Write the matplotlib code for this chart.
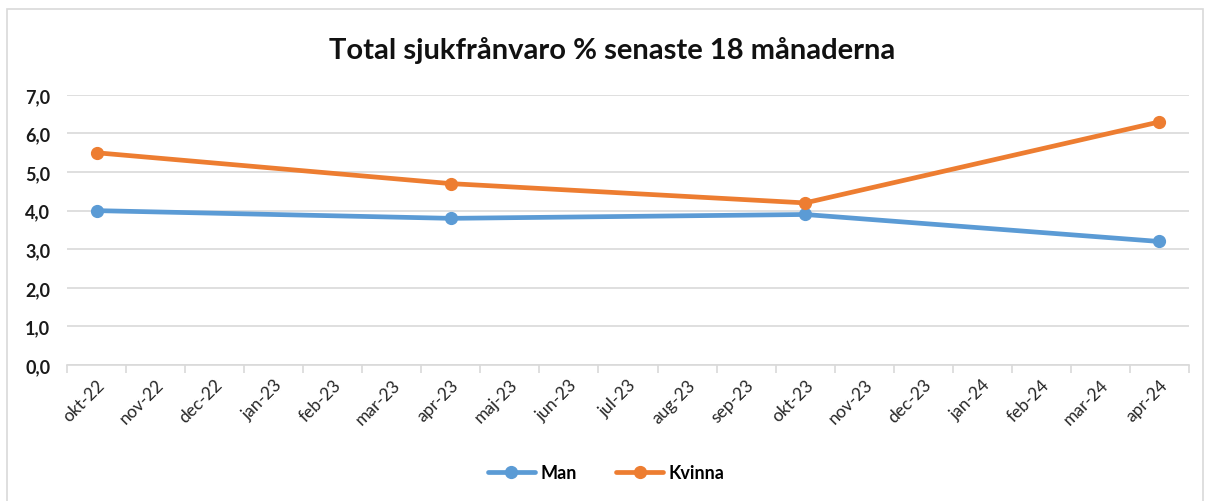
import numpy as np
import matplotlib.pyplot as plt
from matplotlib.patches import Rectangle

plt.rcParams['font.family'] = ['Lato', 'DejaVu Sans']

months = ['okt-22', 'nov-22', 'dec-22', 'jan-23', 'feb-23', 'mar-23', 'apr-23',
          'maj-23', 'jun-23', 'jul-23', 'aug-23', 'sep-23', 'okt-23', 'nov-23',
          'dec-23', 'jan-24', 'feb-24', 'mar-24', 'apr-24']
data_months = ['okt-22', 'apr-23', 'okt-23', 'apr-24']
man = [4.0, 3.8, 3.9, 3.2]
kvinna = [5.5, 4.7, 4.2, 6.3]

blue = '#5B9BD5'
orange = '#ED7D31'

fig = plt.figure(figsize=(12.12, 5.02), dpi=100)
ax = fig.add_axes([0.0553, 0.271, 0.9257, 0.538])

x = [months.index(m) for m in data_months]
ax.plot(x, man, color=blue, lw=3.4, marker='o', ms=8.5, label='Man', solid_capstyle='round')
ax.plot(x, kvinna, color=orange, lw=3.4, marker='o', ms=8.5, label='Kvinna', solid_capstyle='round')

ax.set_xlim(-0.5, len(months) - 0.5)
ax.set_ylim(0, 7)
ax.set_yticks(np.arange(0, 8, 1))
ax.set_yticklabels([f'{v:.1f}'.replace('.', ',') for v in range(8)],
                   fontsize=13, fontweight='bold', color='#1a1a1a')
ax.set_xticks(range(len(months)))
ax.set_xticklabels(months, rotation=45, ha='right', rotation_mode='anchor',
                   fontsize=12.5, color='#262626')
ax.set_xticks(np.arange(-0.5, len(months), 1), minor=True)
ax.tick_params(axis='x', which='major', length=0, pad=8)
ax.tick_params(axis='x', which='minor', length=6, color='#d9d9d9', width=1.2)
ax.tick_params(axis='y', length=0, pad=12)

ax.grid(axis='y', color='#d9d9d9', lw=1.2)
ax.set_axisbelow(True)
for s in ['top', 'right', 'left']:
    ax.spines[s].set_visible(False)
ax.spines['bottom'].set_color('#d9d9d9')
ax.spines['bottom'].set_linewidth(1.2)

fig.text(0.505, 0.899, 'Total sjukfrånvaro % senaste 18 månaderna',
         ha='center', va='center', fontsize=21, fontweight='bold', color='#111111')

fig.legend(loc='center', bbox_to_anchor=(0.5, 0.056), ncol=2, frameon=False,
           prop={'size': 13, 'weight': 'bold'}, handlelength=2.6, columnspacing=2.2,
           handletextpad=0.3)

fig.patches.append(Rectangle((7 / 1212, -0.1), 1196 / 1212, 1.08, transform=fig.transFigure,
                             fill=False, edgecolor='#d9d9d9', lw=1.2))

fig.savefig('out.png', dpi=100)
